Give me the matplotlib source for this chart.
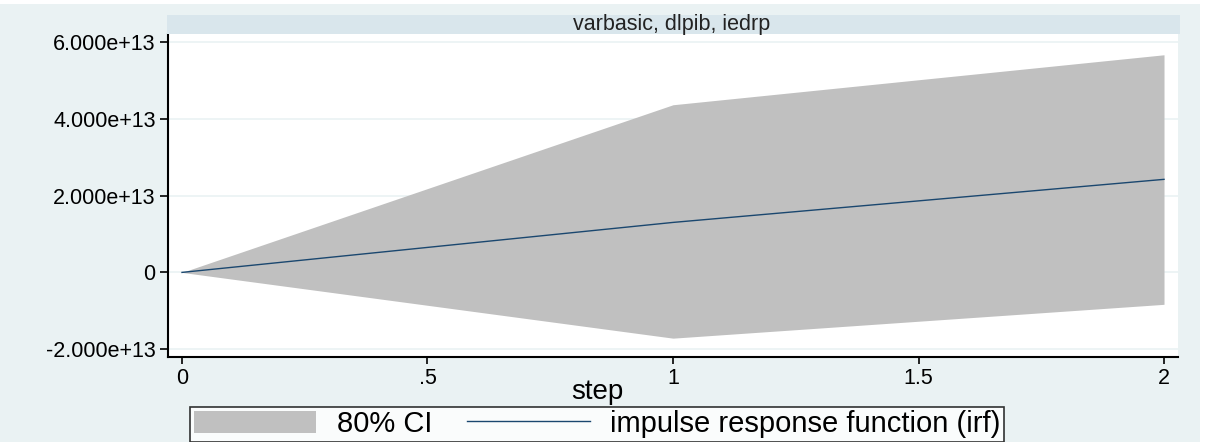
import matplotlib
matplotlib.use("Agg")
import matplotlib.pyplot as plt
from matplotlib.patches import Rectangle, Patch
from matplotlib.lines import Line2D

# --- IRF data: varbasic, dlpib -> iedrp ---
step = [0, 1, 2]
irf = [0.0, 1.30e13, 2.42e13]
ci_lower = [0.0, -1.71e13, -0.83e13]
ci_upper = [0.0, 4.36e13, 5.66e13]

yticks = [-2e13, 0, 2e13, 4e13, 6e13]
ytick_labels = ["-2.000e+13", "0", "2.000e+13", "4.000e+13", "6.000e+13"]
xticks = [0, 0.5, 1, 1.5, 2]
xtick_labels = ["0", ".5", "1", "1.5", "2"]

W, H = 1205, 442
bg = "#eaf2f3"
strip = "#d9e6ec"
fill_col = "#c0c0c0"
line_col = "#1a476f"

plt.rcParams["font.family"] = ["Liberation Sans", "DejaVu Sans"]

fig = plt.figure(figsize=(W / 100, H / 100), dpi=100, facecolor=bg)

# white margins at the top and right edge
fig.patches.append(Rectangle((0, 1 - 4 / H), 1, 4 / H, transform=fig.transFigure,
                             facecolor="white", edgecolor="none", zorder=0))
fig.patches.append(Rectangle((1200 / W, 0), 5 / W, 1, transform=fig.transFigure,
                             facecolor="white", edgecolor="none", zorder=0))

# --- plot area ---
left, right, top, bottom = 168, 1178, 34, 357
ax = fig.add_axes([left / W, 1 - bottom / H, (right - left) / W, (bottom - top) / H])
ax.set_facecolor("white")

ax.fill_between(step, ci_lower, ci_upper, color=fill_col, linewidth=0, zorder=2)
ax.plot(step, irf, color=line_col, linewidth=1.0, zorder=3)

ax.set_xlim(-0.0285, 2.0285)
ax.set_ylim(-2.2e13, 6.2e13)
ax.set_yticks(yticks)
ax.set_yticklabels(ytick_labels)
ax.set_xticks(xticks)
ax.set_xticklabels(xtick_labels)
ax.yaxis.grid(True, color=bg, linewidth=1.2, zorder=1)
ax.set_axisbelow(True)

for s in ["top", "right"]:
    ax.spines[s].set_visible(False)
for s in ["left", "bottom"]:
    ax.spines[s].set_color("black")
    ax.spines[s].set_linewidth(1.5)

ax.tick_params(axis="y", direction="out", length=6, width=1.2, labelsize=15.5,
               pad=3, colors="black")
ax.tick_params(axis="x", direction="out", length=5, width=1.2, labelsize=15.5,
               pad=3, colors="black")

fig.text(597 / W, 1 - 392 / H, "step", ha="center", va="center", fontsize=20)

# --- title strip ---
fig.patches.append(Rectangle((167 / W, 1 - 34 / H), (1180 - 167) / W, 19 / H,
                             transform=fig.transFigure, facecolor=strip,
                             edgecolor="none", zorder=1))
fig.text(672 / W, 1 - 24.5 / H, "varbasic, dlpib, iedrp", ha="center", va="center",
         fontsize=15.5, color="#222222")

# --- legend ---
handles = [Patch(facecolor=fill_col, edgecolor="none"),
           Line2D([0], [0], color=line_col, linewidth=1.0)]
labels = ["80% CI", "impulse response function (irf)"]
leg = fig.legend(handles, labels, loc="center", ncol=2,
                 bbox_to_anchor=(597 / W, 1 - 424 / H), fontsize=21,
                 frameon=True, fancybox=False, handlelength=4.2, handleheight=0.8,
                 columnspacing=1.2, handletextpad=0.7, borderpad=0.12,
                 borderaxespad=0)
leg.get_frame().set_edgecolor("black")
leg.get_frame().set_linewidth(1.2)
leg.get_frame().set_facecolor("white")

fig.savefig("out.png", dpi=100, facecolor=bg)
